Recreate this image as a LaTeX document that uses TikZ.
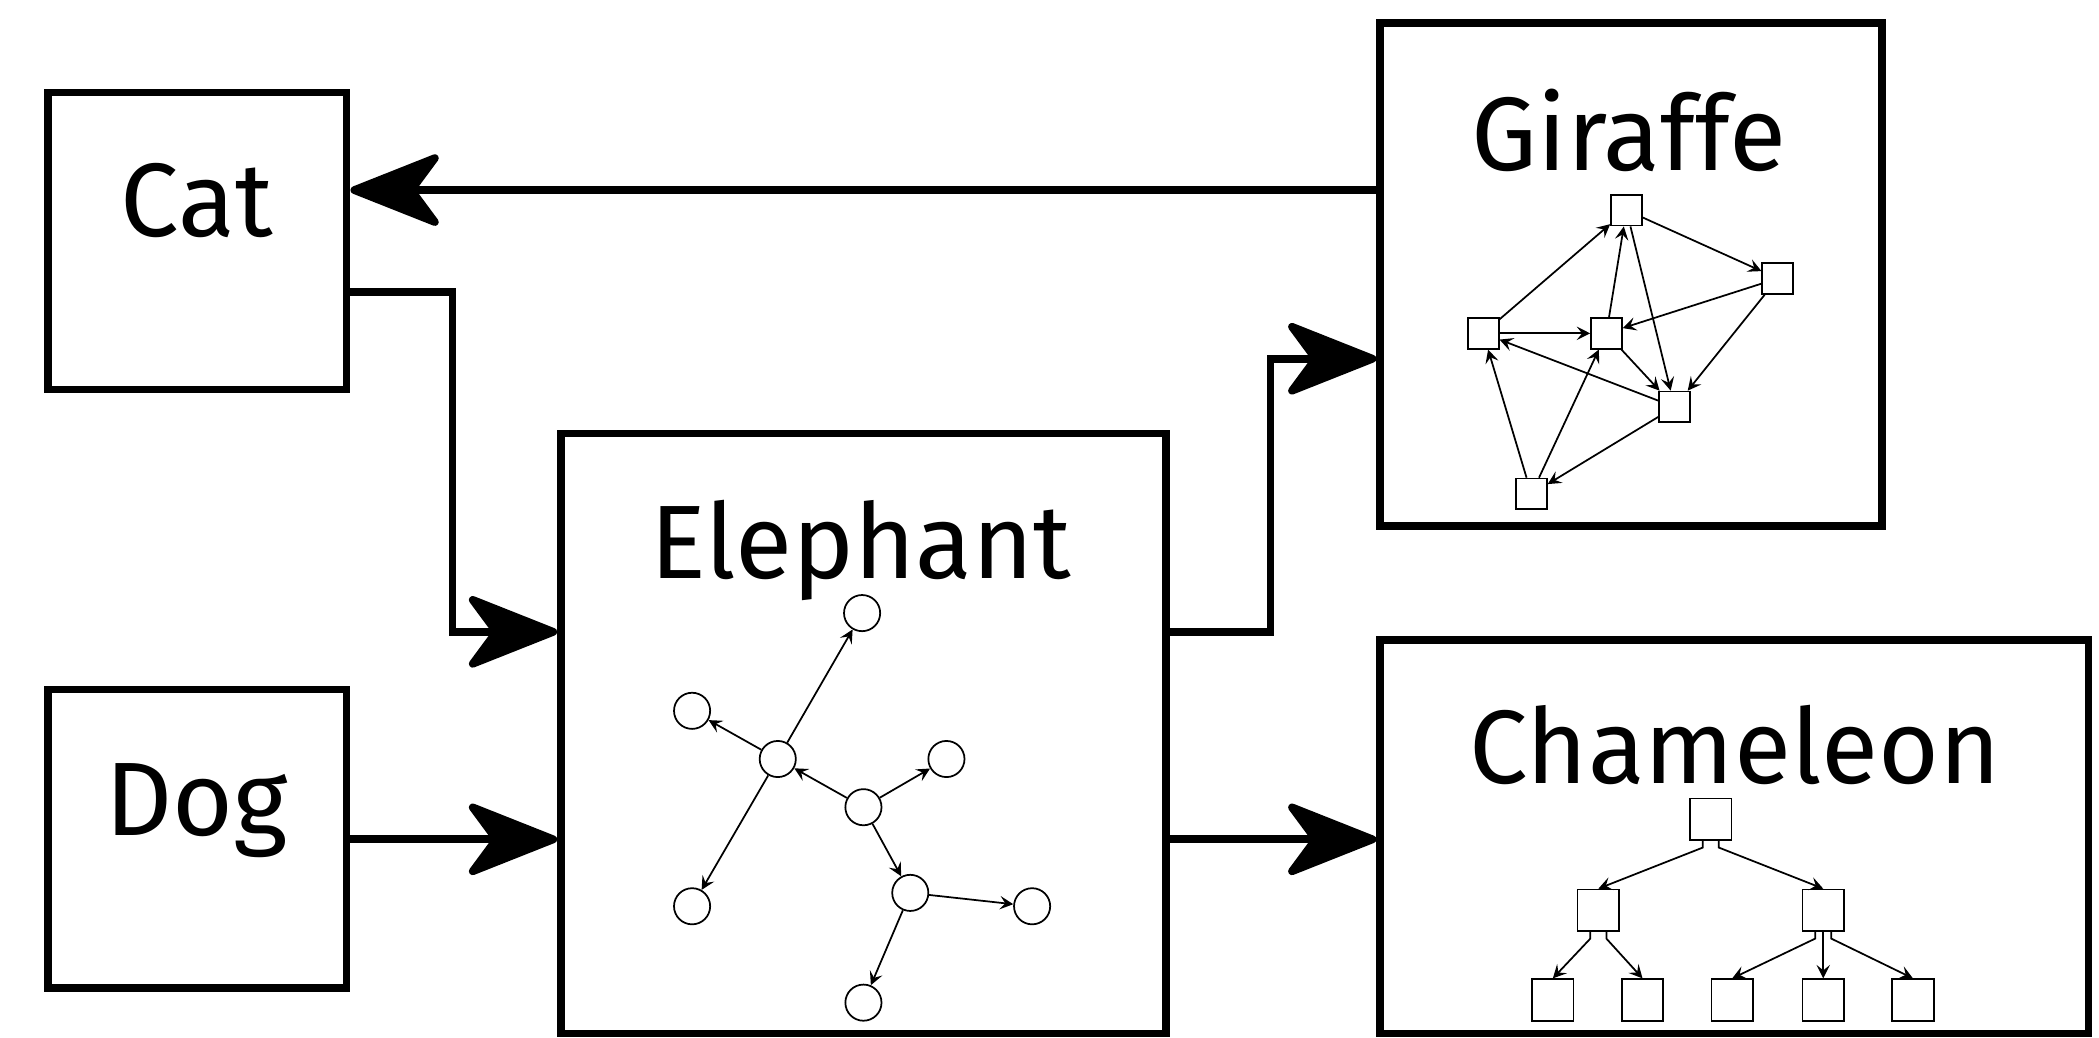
\documentclass[tikz,border=0pt]{standalone}
\usepackage{fontspec}
\setmainfont{Fira Sans}
\usetikzlibrary{arrows.meta}
\begin{document}
\begin{tikzpicture}[x=0.5pt,y=-0.5pt,
  bigbox/.style={draw, line width=2.8pt, inner sep=0pt, fill=white},
  lbl/.style={anchor=base, inner sep=0pt, font=\fontsize{39}{39}\selectfont},
  conn/.style={line width=2.9pt, -{Stealth[length=38pt,width=30pt,inset=11pt,round]}},
  enode/.style={circle, draw, line width=0.65pt, minimum size=13.5pt, inner sep=0pt},
  gnode/.style={draw, line width=0.65pt, minimum size=11.5pt, inner sep=0pt},
  cnode/.style={draw, line width=0.65pt, minimum size=15.5pt, inner sep=0pt},
  thinarr/.style={line width=0.65pt, -{Stealth[length=5pt,width=5pt,inset=2pt]}},
  tedge/.style={line width=0.65pt, -{Stealth[length=5pt,width=5pt,inset=2pt]}}]
\useasboundingbox (0,0) rectangle (1568,775);
% big boxes
\node[bigbox, minimum width=111.5pt, minimum height=111pt] (cat) at (147.5,180) {};
\node[bigbox, minimum width=111.5pt, minimum height=111.5pt] (dog) at (147.5,626.5) {};
\node[bigbox, minimum width=226pt, minimum height=224pt] (ele) at (645,548) {};
\node[bigbox, minimum width=187.5pt, minimum height=188pt] (gir) at (1218.5,205) {};
\node[bigbox, minimum width=264.5pt, minimum height=147pt] (cha) at (1295.5,625) {};
% labels
\node[lbl] (catl) at (147,177) {Cat};
\node[lbl] (dogl) at (147,624) {Dog};
\node[lbl] (elel) at (643,432) {Elephant};
\node[lbl] (girl) at (1217,127) {Giraffe};
\node[lbl] (chal) at (1296,585) {Chameleon};
% connectors
\coordinate (c1) at (338,218);
\coordinate (c2) at (338,472);
\coordinate (e1) at (949,472);
\coordinate (e2) at (949,268);
\draw[conn] (gir.west |- 0,142) -- (cat.east |- 0,142);
\draw[conn] (cat.east |- c1) -- (c1) -- (c2) -- (ele.west |- c2);
\draw[conn] (dog.east |- 0,627) -- (ele.west |- 0,627);
\draw[conn] (ele.east |- e1) -- (e1) -- (e2) -- (gir.west |- e2);
\draw[conn] (ele.east |- 0,627) -- (cha.west |- 0,627);
% elephant graph
\node[enode] (et) at (644,458) {};
\node[enode] (eu) at (517,531) {};
\node[enode] (ecl) at (581,567) {};
\node[enode] (er) at (707,567) {};
\node[enode] (ec) at (645,603) {};
\node[enode] (ebl) at (517,677) {};
\node[enode] (ech) at (680,667) {};
\node[enode] (erb) at (771,677) {};
\node[enode] (eb) at (645,749) {};
\draw[thinarr] (ec) -- (ecl);
\draw[thinarr] (ec) -- (er);
\draw[thinarr] (ec) -- (ech);
\draw[thinarr] (ecl) -- (et);
\draw[thinarr] (ecl) -- (eu);
\draw[thinarr] (ecl) -- (ebl);
\draw[thinarr] (ech) -- (erb);
\draw[thinarr] (ech) -- (eb);
% giraffe graph
\node[gnode] (ga) at (1215,157) {};
\node[gnode] (gb) at (1328,208) {};
\node[gnode] (gc) at (1108,249) {};
\node[gnode] (gd) at (1200,249) {};
\node[gnode] (ge) at (1251,304) {};
\node[gnode] (gf) at (1144,369) {};
\draw[thinarr] (gc) -- (ga);
\draw[thinarr] (gd) -- (ga);
\draw[thinarr] (ga) -- (ge);
\draw[thinarr] (ga) -- (gb);
\draw[thinarr] (gb) -- (gd);
\draw[thinarr] (gb) -- (ge);
\draw[thinarr] (gc) -- (gd);
\draw[thinarr] (gd) -- (ge);
\draw[thinarr] (ge) -- (gc);
\draw[thinarr] (ge) -- (gf);
\draw[thinarr] (gf) -- (gc);
\draw[thinarr] (gf) -- (gd);
% chameleon tree
\node[cnode] (tr) at (1278,612) {};
\node[cnode] (tl) at (1194,680) {};
\node[cnode] (tm) at (1362,680) {};
\node[cnode] (t1) at (1160,747) {};
\node[cnode] (t2) at (1227,747) {};
\node[cnode] (t3) at (1294,747) {};
\node[cnode] (t4) at (1362,747) {};
\node[cnode] (t5) at (1429,747) {};
\draw[tedge] ([xshift=-3pt]tr.south) -- ++(0,5) -- (tl.north);
\draw[tedge] ([xshift=3pt]tr.south) -- ++(0,5) -- (tm.north);
\draw[tedge] ([xshift=-3pt]tl.south) -- ++(0,5) -- (t1.north);
\draw[tedge] ([xshift=3pt]tl.south) -- ++(0,5) -- (t2.north);
\draw[tedge] ([xshift=-3pt]tm.south) -- ++(0,5) -- (t3.north);
\draw[tedge] (tm.south) -- (t4.north);
\draw[tedge] ([xshift=3pt]tm.south) -- ++(0,5) -- (t5.north);
\end{tikzpicture}
\end{document}
